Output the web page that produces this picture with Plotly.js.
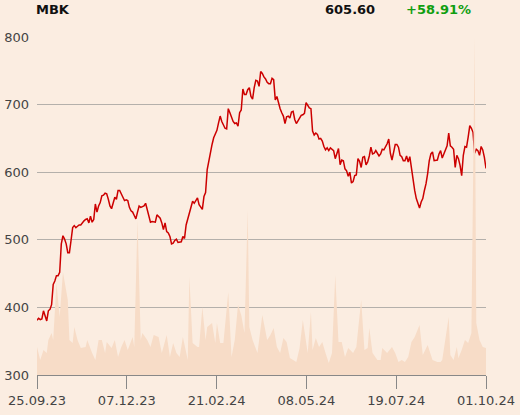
<!DOCTYPE html>
<html>
<head>
<meta charset="utf-8">
<script src="https://cdn.plot.ly/plotly-3.0.1.min.js"></script>
<style>
  html, body { margin: 0; padding: 0; background: #fbede1; }
  #chart { width: 520px; height: 415px; }
</style>
</head>
<body>
<div id="chart"></div>
<script>
// Daily closing prices of MBK (trading days, 25.09.23 .. 01.10.24)
const closePrices = [
  381,384,382,383,395,387,380,395,397,404,
  434,439,447,447,452,494,506,501,494,481,
  481,499,518,521,518,520,522,522,526,528,
  530,531,525,535,526,530,553,541,550,555,
  565,566,569,568,560,550,546,555,563,560,
  573,573,569,563,558,559,558,548,543,541,
  536,531,541,550,548,549,550,554,
  544,534,526,527,526,526,537,534,532,525,
  515,525,512,510,505,494,495,499,501,496,
  497,497,505,502,522,531,539,552,557,554,
  559,562,552,549,545,564,570,604,618,631,
  641,651,656,662,673,683,675,670,665,664,
  694,688,682,675,672,673,668,688,692,723,
  715,715,722,725,712,708,725,736,735,727,
  749,746,741,738,
  733,731,731,739,737,707,712,702,694,688,
  683,672,682,683,680,689,690,678,672,676,
  680,684,685,687,703,698,695,694,661,655,
  658,656,649,650,646,638,633,636,632,636,
  634,632,620,627,635,611,618,617,605,602,
  594,600,584,586,595,596,620,616,607,622,
  623,611,615,624,637,627,628,632,627,624,
  627,
  634,633,637,642,649,628,618,632,641,641,
  637,625,623,617,617,624,615,623,605,585,
  573,561,553,547,556,561,573,583,598,617,
  627,630,617,617,618,627,632,621,627,634,
  639,658,639,637,634,607,625,620,610,595,
  625,638,637,652,669,665,659,628,634,632,
  625,638,633,622,605.60
];

// Trading volume (thousand shares), sampled on trading-day numbers
const volumeDay = [
  0,2,4,6,7,9,10,12,14,16,19,20,22,23,25,27,30,31,34,36,
  38,40,42,43,46,48,50,52,54,56,59,60,62,64,65,68,70,72,75,77,
  80,82,84,86,88,90,93,94,96,99,100,102,104,105,108,110,111,113,115,118,
  120,122,124,126,128,130,131,133,136,139,142,144,146,148,150,152,154,156,158,160,
  162,164,167,169,170,172,174,176,178,180,182,184,186,188,190,192,195,197,200,202,
  204,205,207,210,212,213,216,219,221,223,225,227,229,231,233,236,238,240,241,244,
  247,249,250,254,255,257,259,260,262,264,266,268,270,271,273,275,277
];
const volume = [
  28,15,25,22,35,42,35,92,58,103,75,35,32,48,35,27,28,35,22,15,
  35,35,22,33,27,35,18,28,35,25,38,28,155,35,42,35,28,40,38,22,
  40,18,32,22,18,38,15,98,32,28,28,68,35,48,52,32,52,32,32,83,
  18,35,70,60,42,165,48,35,22,60,35,40,47,28,22,37,33,17,15,13,
  27,55,22,63,25,37,28,33,22,12,22,100,33,33,18,27,22,28,75,25,
  27,47,22,15,15,27,22,28,22,13,15,13,18,33,38,50,20,27,30,15,
  13,13,15,58,20,15,28,17,25,35,32,42,338,52,35,28,27
];

const tickLabels = ['25.09.23','07.12.23','21.02.24','08.05.24','19.07.24','01.10.24'];

const ticker = 'MBK';
const lastPrice = '605.60';
const change = '+58.91%';

const n = closePrices.length;
const dayIndex = closePrices.map((_, i) => i);
const tickVals = tickLabels.map((_, k) => (n - 1) * k / (tickLabels.length - 1));

const FONT = 'DejaVu Sans, sans-serif';

const traces = [
  {
    x: volumeDay, y: volume, yaxis: 'y2', type: 'scatter', mode: 'lines',
    fill: 'tozeroy', fillcolor: '#f7dcc7', line: { width: 0, color: '#f7dcc7' },
    hoverinfo: 'skip'
  },
  {
    x: dayIndex, y: closePrices, type: 'scatter', mode: 'lines',
    line: { color: '#cc0000', width: 1.5 }
  }
];

const layout = {
  width: 520, height: 415,
  paper_bgcolor: '#fbede1', plot_bgcolor: '#fbede1',
  margin: { l: 37, r: 34, t: 37, b: 40 },
  showlegend: false,
  font: { family: FONT, size: 13, color: '#444' },
  xaxis: {
    range: [0, n - 1], tickvals: tickVals, ticktext: tickLabels,
    showgrid: false, zeroline: false,
    showline: true, linecolor: '#888', linewidth: 1,
    ticks: 'outside', ticklen: 13, tickcolor: '#888', tickwidth: 1,
    tickfont: { family: FONT, size: 13, color: '#444' }
  },
  yaxis: {
    range: [300, 800], tickvals: [300,400,500,600,700,800],
    showgrid: true, gridcolor: '#b4b0ab', gridwidth: 1,
    zeroline: false, showline: false, ticks: '',
    ticklabelstandoff: 7,
    tickfont: { family: FONT, size: 13, color: '#444' }
  },
  yaxis2: {
    overlaying: 'y', range: [0, 338], visible: false, showgrid: false
  },
  annotations: [
    { text: '<b>' + ticker + '</b>', xref: 'paper', yref: 'paper', x: 0, y: 1.08,
      xshift: -3, xanchor: 'left', yanchor: 'middle', showarrow: false,
      font: { family: FONT, size: 13, color: '#111' } },
    { text: '<b>' + lastPrice + '</b>', xref: 'paper', yref: 'paper', x: 0.753, y: 1.08,
      xshift: 2, xanchor: 'right', yanchor: 'middle', showarrow: false,
      font: { family: FONT, size: 13, color: '#111' } },
    { text: '<b>' + change + '</b>', xref: 'paper', yref: 'paper', x: 0.824, y: 1.08,
      xshift: -3, xanchor: 'left', yanchor: 'middle', showarrow: false,
      font: { family: FONT, size: 13, color: '#109e10' } }
  ]
};

Plotly.newPlot('chart', traces, layout, { displayModeBar: false, staticPlot: true });
</script>
</body>
</html>
